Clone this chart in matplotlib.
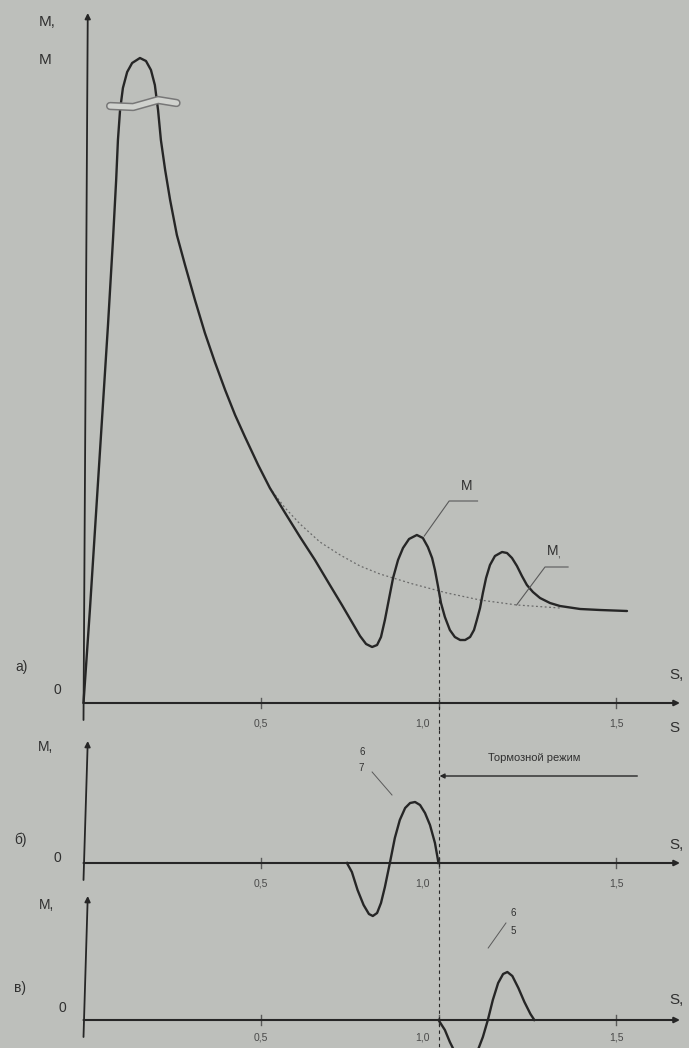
import matplotlib
matplotlib.use("Agg")
import matplotlib.pyplot as plt

plt.rcParams['font.family'] = ['Liberation Sans', 'DejaVu Sans']

# ---------------- data (s = slip, M = torque, relative units) ----------------
s_main = [0.0, 0.018, 0.035, 0.052, 0.069, 0.083, 0.092, 0.097, 0.103, 0.111,
          0.123, 0.137, 0.159, 0.176, 0.190, 0.201, 0.210, 0.218, 0.230, 0.244,
          0.263, 0.286, 0.314, 0.342, 0.370, 0.399, 0.427, 0.455, 0.492, 0.525,
          0.568, 0.610, 0.652, 0.694, 0.728, 0.756, 0.779, 0.796, 0.813, 0.827,
          0.838, 0.849, 0.861, 0.872, 0.886, 0.900, 0.917, 0.939, 0.956, 0.970,
          0.982, 0.990, 0.999, 1.007, 1.018, 1.032, 1.046, 1.061, 1.075, 1.089,
          1.100, 1.108, 1.117, 1.125, 1.134, 1.145, 1.159, 1.179, 1.193, 1.207,
          1.221, 1.235, 1.249, 1.266, 1.286, 1.314, 1.342, 1.399, 1.455, 1.531]
M_main = [0.0, 0.93, 1.88, 2.83, 3.78, 4.63, 5.23, 5.63, 5.93, 6.15,
          6.31, 6.40, 6.45, 6.42, 6.33, 6.18, 5.93, 5.63, 5.33, 5.03,
          4.68, 4.38, 4.03, 3.70, 3.41, 3.13, 2.88, 2.66, 2.38, 2.15,
          1.90, 1.66, 1.43, 1.18, 0.98, 0.81, 0.67, 0.59, 0.56, 0.58,
          0.66, 0.83, 1.05, 1.25, 1.43, 1.55, 1.64, 1.68, 1.65, 1.56,
          1.45, 1.33, 1.16, 1.00, 0.86, 0.73, 0.66, 0.63, 0.63, 0.66,
          0.73, 0.83, 0.95, 1.10, 1.25, 1.38, 1.47, 1.51, 1.50, 1.45,
          1.37, 1.27, 1.18, 1.11, 1.05, 1.00, 0.97, 0.94, 0.93, 0.92]

s_m1 = [0.525, 0.568, 0.610, 0.666, 0.723, 0.779, 0.835, 0.928, 1.024, 1.117, 1.221, 1.342]
M_m1 = [2.15, 1.95, 1.79, 1.61, 1.48, 1.37, 1.29, 1.19, 1.10, 1.03, 0.98, 0.95]

s_b = [0.742, 0.756, 0.772, 0.789, 0.804, 0.815, 0.827, 0.838, 0.849, 0.863,
       0.877, 0.891, 0.906, 0.920, 0.934, 0.948, 0.962, 0.976, 0.990, 1.0]
M_b = [0.0, -0.09, -0.27, -0.42, -0.51, -0.53, -0.50, -0.40, -0.24, 0.0,
       0.25, 0.43, 0.55, 0.60, 0.61, 0.58, 0.50, 0.38, 0.20, 0.0]

s_v = [1.0, 1.018, 1.032, 1.046, 1.061, 1.077, 1.094, 1.111, 1.125, 1.139,
       1.153, 1.168, 1.182, 1.194, 1.208, 1.225, 1.242, 1.259, 1.270]
M_v = [0.0, -0.10, -0.22, -0.32, -0.40, -0.44, -0.40, -0.30, -0.17, 0.0,
       0.20, 0.37, 0.46, 0.48, 0.44, 0.32, 0.18, 0.06, 0.0]

tick_vals = [0.5, 1.0, 1.5]
tick_labels = ["0,5", "1,0", "1,5"]

# ---------------- style ----------------
BG = "#bdbfbb"
INK = "#262626"
TXT = "#303030"
GREY = "#5a5a5a"

W, H = 689, 1048
fig = plt.figure(figsize=(W / 100, H / 100), dpi=100, facecolor=BG)

x0 = 83.5
ppu = 355.0  # pixels per unit of s
xlim = (-x0 / ppu, (W - x0) / ppu)
S_END = (680 - x0) / ppu


def make_ax(top_px, bot_px, zero_px):
    ax = fig.add_axes([0, (H - bot_px) / H, 1, (bot_px - top_px) / H])
    ax.set_xlim(*xlim)
    ax.set_ylim((zero_px - bot_px) / 100, (zero_px - top_px) / 100)
    ax.axis("off")
    ax.patch.set_alpha(0)
    return ax


def draw_axes(ax, y_top, y_bot=-0.17, lab_y=-0.2):
    ax.annotate("", xy=(S_END, 0), xytext=(0, 0),
                arrowprops=dict(arrowstyle="-|>", color=INK, lw=1.5,
                                mutation_scale=8, shrinkA=0, shrinkB=0))
    ax.annotate("", xy=(0.012, y_top), xytext=(0, y_bot),
                arrowprops=dict(arrowstyle="-|>", color=INK, lw=1.3,
                                mutation_scale=8, shrinkA=0, shrinkB=0))
    for v, lab in zip(tick_vals, tick_labels):
        ax.plot([v, v], [-0.05, 0.05], color=GREY, lw=1.0)
        off = -0.045 if v == 1.0 else 0.0
        ax.text(v + off, lab_y, lab, ha="center", va="center",
                fontsize=7.5, color="#4a4a4a")


# ---------------- panel a ----------------
axa = make_ax(0, 730, 703)
draw_axes(axa, 6.9)
axa.plot(s_m1, M_m1, color="#6a6a6a", lw=0.9, ls=(0, (1.5, 2.0)))
axa.plot(s_main, M_main, color=INK, lw=1.7, solid_capstyle="round",
         solid_joinstyle="round")
# curve break mark
brk_s = [0.075, 0.14, 0.21, 0.262]
brk_M = [5.97, 5.96, 6.03, 6.00]
axa.plot(brk_s, brk_M, color="#777777", lw=6.0, solid_capstyle="round")
axa.plot(brk_s, brk_M, color="#d0d2ce", lw=3.8, solid_capstyle="round")
# leader for M
axa.plot([0.96, 1.03, 1.11], [1.67, 2.02, 2.02], color=GREY, lw=0.8)
axa.text(1.08, 2.10, "M", fontsize=10, color=TXT, ha="center", va="bottom")
# leader for M1
axa.plot([1.22, 1.30, 1.365], [0.98, 1.36, 1.36], color=GREY, lw=0.8)
axa.text(1.325, 1.42, "M$_\\mathregular{,}$", fontsize=10, color=TXT, ha="center", va="bottom")
axa.text(-0.103, 6.81, "M,", fontsize=11, color=TXT, ha="center", va="center")
axa.text(-0.108, 6.43, "M", fontsize=11, color=TXT, ha="center", va="center")
axa.text(-0.175, 0.36, "а)", fontsize=10, color=TXT, ha="center", va="center")
axa.text(-0.075, 0.13, "0", fontsize=10, color=TXT, ha="center", va="center")
axa.text(1.669, 0.28, "S,", fontsize=11, color=TXT, ha="center", va="center")
axa.text(1.665, -0.25, "S", fontsize=11, color=TXT, ha="center", va="center")
axa.plot([1.0, 1.0], [1.10, -0.27], color=INK, lw=0.8, ls=(0, (3, 3)), clip_on=False)

# ---------------- panel б ----------------
axb = make_ax(730, 890, 863)
draw_axes(axb, 1.22)
axb.plot(s_b, M_b, color=INK, lw=1.7, clip_on=False, solid_joinstyle="round")
axb.plot([1.0, 1.0], [1.33, -0.27], color=INK, lw=0.8, ls=(0, (3, 3)), clip_on=False)
axb.annotate("", xy=(1.003, 0.87), xytext=(1.56, 0.87),
             arrowprops=dict(arrowstyle="-|>", color=INK, lw=1.0,
                             mutation_scale=7, shrinkA=0, shrinkB=0))
axb.text(1.27, 1.05, "Тормозной режим", fontsize=8, color=TXT, ha="center", va="center")
axb.text(0.785, 1.11, "6", fontsize=7, color=TXT, ha="center", va="center")
axb.text(0.783, 0.95, "7", fontsize=7, color=TXT, ha="center", va="center")
axb.plot([0.813, 0.869], [0.91, 0.68], color=GREY, lw=0.7)
axb.text(-0.108, 1.16, "M,", fontsize=10, color=TXT, ha="center", va="center")
axb.text(-0.178, 0.23, "б)", fontsize=10, color=TXT, ha="center", va="center")
axb.text(-0.075, 0.05, "0", fontsize=10, color=TXT, ha="center", va="center")
axb.text(1.669, 0.18, "S,", fontsize=11, color=TXT, ha="center", va="center")

# ---------------- panel в ----------------
axv = make_ax(890, 1048, 1020)
draw_axes(axv, 1.24, lab_y=-0.18)
axv.plot(s_v, M_v, color=INK, lw=1.7, clip_on=False, solid_joinstyle="round")
axv.plot([1.0, 1.0], [1.30, -0.28], color=INK, lw=0.8, ls=(0, (3, 3)), clip_on=False)
axv.text(1.21, 1.07, "6", fontsize=7, color=TXT, ha="center", va="center")
axv.text(1.21, 0.89, "5", fontsize=7, color=TXT, ha="center", va="center")
axv.plot([1.19, 1.14], [0.97, 0.72], color=GREY, lw=0.7)
axv.text(-0.103, 1.15, "M,", fontsize=10, color=TXT, ha="center", va="center")
axv.text(-0.178, 0.32, "в)", fontsize=10, color=TXT, ha="center", va="center")
axv.text(-0.06, 0.12, "0", fontsize=10, color=TXT, ha="center", va="center")
axv.text(1.669, 0.20, "S,", fontsize=11, color=TXT, ha="center", va="center")

fig.savefig("out.png", dpi=100, facecolor=BG)
